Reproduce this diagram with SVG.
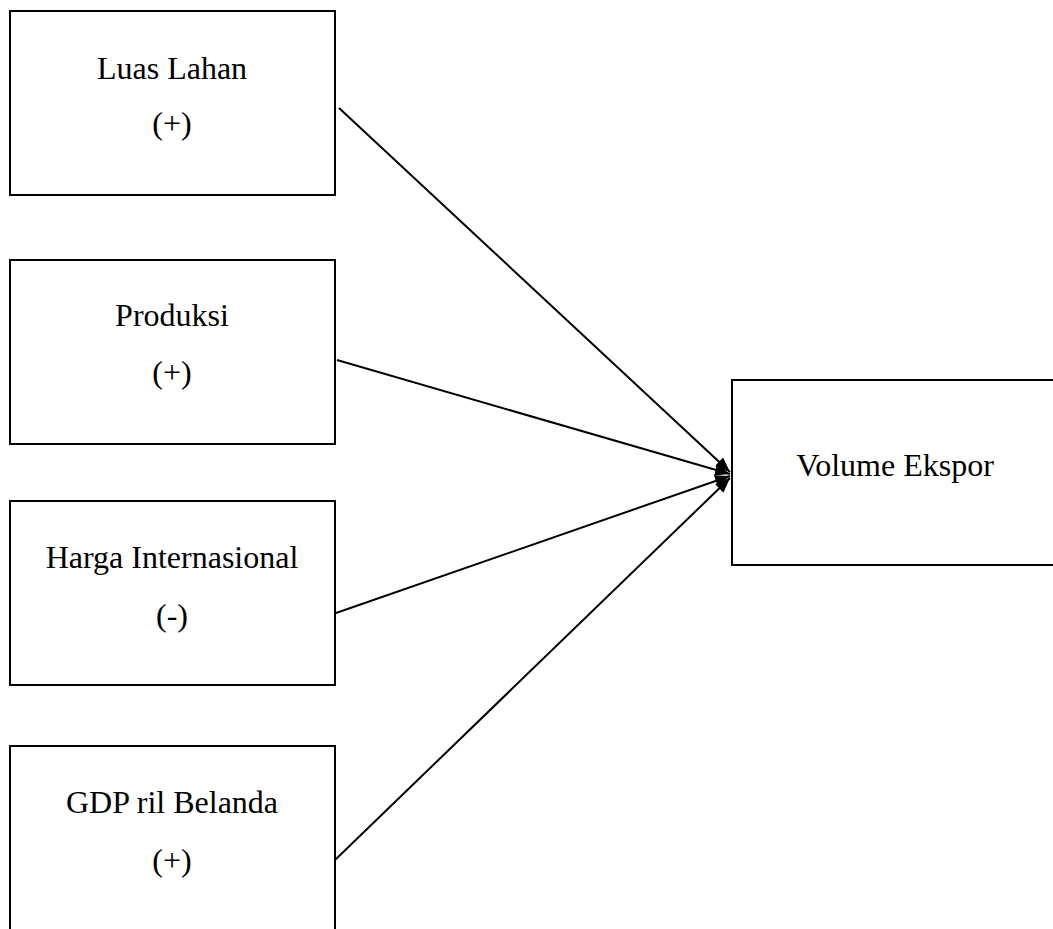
<svg xmlns="http://www.w3.org/2000/svg" width="1053" height="929" viewBox="0 0 1053 929">
<style>
.box{fill:#fff;stroke:#000;stroke-width:2}
.t{font-size:32px;fill:#000;text-anchor:middle}
.c{stroke:#000;stroke-width:2;fill:none}
</style>
<defs>
<marker id="ah" markerWidth="15" markerHeight="12" refX="15" refY="6" orient="auto" markerUnits="userSpaceOnUse">
<path d="M0,0 L15,6 L0,12 Z" fill="#000"/>
</marker>
</defs>
<rect width="1053" height="929" fill="#fff"/>
<g font-family="'Liberation Serif', 'Times New Roman', Times, 'DejaVu Serif', serif">
<g id="n1"><rect class="box" x="10" y="11" width="325" height="184"/><text class="t" x="172" y="79">Luas Lahan</text><text class="t" x="172" y="134">(+)</text></g>
<g id="n2"><rect class="box" x="10" y="260" width="325" height="184"/><text class="t" x="172" y="326">Produksi</text><text class="t" x="172" y="383">(+)</text></g>
<g id="n3"><rect class="box" x="10" y="501" width="325" height="184"/><text class="t" x="172" y="568">Harga Internasional</text><text class="t" x="172" y="626">(-)</text></g>
<g id="n4"><rect class="box" x="10" y="746" width="325" height="200"/><text class="t" x="172" y="813">GDP ril Belanda</text><text class="t" x="172" y="871">(+)</text></g>
<g id="n5"><rect class="box" x="732" y="380" width="330" height="185"/><text class="t" x="895" y="476">Volume Ekspor</text></g>
</g>
<g id="connectors">
<line class="c" x1="339" y1="108" x2="730" y2="472" marker-end="url(#ah)"/>
<line class="c" x1="337" y1="360" x2="730" y2="474" marker-end="url(#ah)"/>
<line class="c" x1="336" y1="613" x2="730" y2="476" marker-end="url(#ah)"/>
<line class="c" x1="335" y1="860" x2="730" y2="478" marker-end="url(#ah)"/>
</g>
</svg>
